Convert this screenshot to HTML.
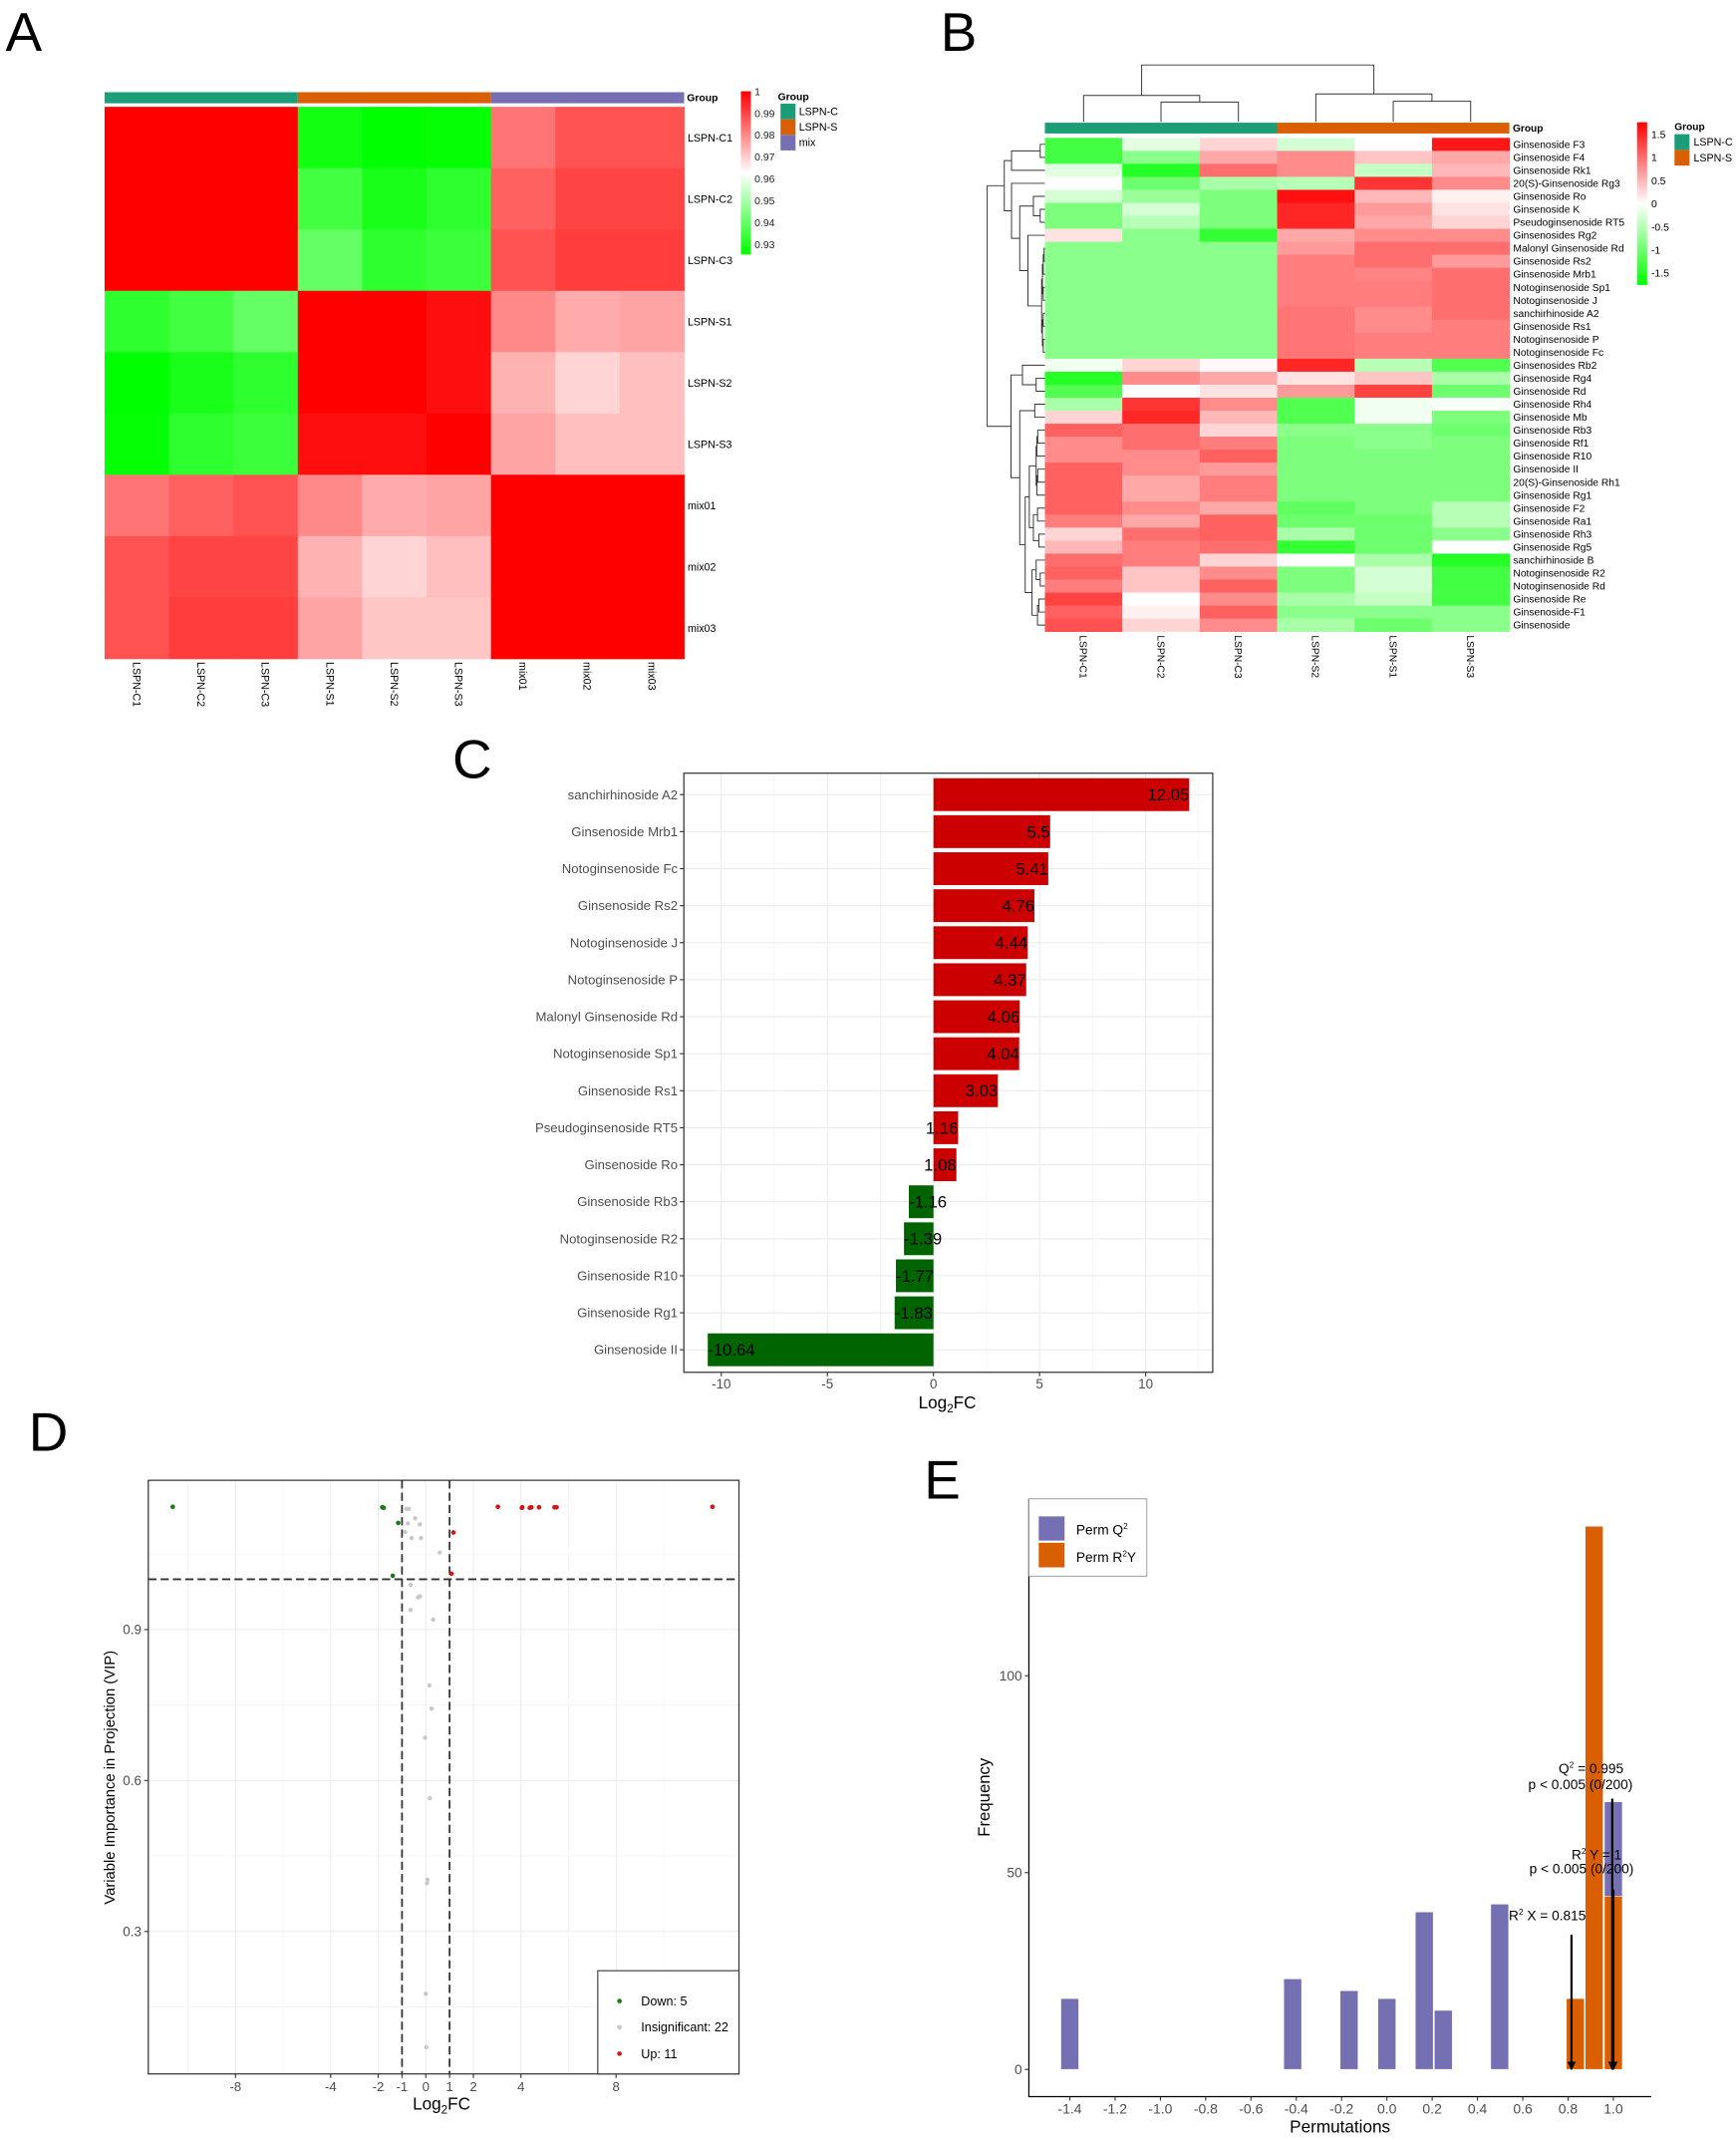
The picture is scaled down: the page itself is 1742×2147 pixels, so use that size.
<!DOCTYPE html>
<html><head><meta charset="utf-8"><title>Figure</title>
<style>
html,body{margin:0;padding:0;background:#fff;}
svg{display:block;font-family:"Liberation Sans",Arial,sans-serif;}
</style></head>
<body>
<svg id="fig" xmlns="http://www.w3.org/2000/svg" width="1742" height="2147" viewBox="0 0 1270 1565">
<rect x="0" y="0" width="1270" height="1565" fill="#fff"/>
<text x="4" y="37" font-size="40">A</text>
<text x="688" y="37" font-size="40">B</text>
<text x="331" y="569" font-size="40">C</text>
<text x="21" y="1061" font-size="40">D</text>
<text x="676" y="1096" font-size="40">E</text>
</svg>
<script>
// ---------- DATA ----------
const aSamples=['LSPN-C1','LSPN-C2','LSPN-C3','LSPN-S1','LSPN-S2','LSPN-S3','mix01','mix02','mix03'];
const aGroups=['LSPN-C','LSPN-S','mix'];
const aCorr=[
[1,1,1,.928,.925,.926,.983,.988,.988],
[1,1,1,.935,.929,.932,.986,.990,.990],
[1,1,1,.940,.932,.934,.988,.991,.991],
[.932,.935,.940,1,1,.998,.980,.975,.976],
[.925,.929,.932,1,1,.998,.974,.969,.972],
[.926,.932,.934,.998,.998,1,.976,.972,.972],
[.983,.986,.988,.980,.975,.976,1,1,1],
[.988,.990,.990,.974,.969,.972,1,1,1],
[.988,.991,.991,.976,.971,.971,1,1,1]];
const aTicks=[1,0.99,0.98,0.97,0.96,0.95,0.94,0.93];

const bCols=['LSPN-C1','LSPN-C2','LSPN-C3','LSPN-S2','LSPN-S1','LSPN-S3'];
const bRows=['Ginsenoside F3','Ginsenoside F4','Ginsenoside Rk1','20(S)-Ginsenoside Rg3','Ginsenoside Ro','Ginsenoside K','Pseudoginsenoside RT5','Ginsenosides Rg2','Malonyl Ginsenoside Rd','Ginsenoside Rs2','Ginsenoside Mrb1','Notoginsenoside Sp1','Notoginsenoside J','sanchirhinoside A2','Ginsenoside Rs1','Notoginsenoside P','Notoginsenoside Fc','Ginsenosides Rb2','Ginsenoside Rg4','Ginsenoside Rd','Ginsenoside Rh4','Ginsenoside Mb','Ginsenoside Rb3','Ginsenoside Rf1','Ginsenoside R10','Ginsenoside II','20(S)-Ginsenoside Rh1','Ginsenoside Rg1','Ginsenoside F2','Ginsenoside Ra1','Ginsenoside Rh3','Ginsenoside Rg5','sanchirhinoside B','Notoginsenoside R2','Notoginsenoside Rd','Ginsenoside Re','Ginsenoside-F1','Ginsenoside'];
const bVals=[
[-1.3,-0.2,0.3,-0.3,0,1.6],[-1.3,-0.8,0.6,0.8,0.4,0.6],[-0.2,-1.5,1.0,0.8,-0.4,0.5],[0,-1.0,-0.6,-0.5,1.4,0.8],
[-0.3,-0.7,-0.9,1.65,0.5,0.1],[-0.9,-0.3,-0.9,1.5,0.7,0.2],[-0.9,-0.5,-0.9,1.5,0.6,0.3],[0.2,-0.8,-1.4,0.6,0.8,0.8],
[-0.8,-0.8,-0.8,0.7,1.0,1.0],[-0.8,-0.8,-0.8,0.9,1.0,0.7],[-0.8,-0.8,-0.8,0.9,0.85,1.0],[-0.8,-0.8,-0.8,0.9,0.9,1.0],
[-0.8,-0.8,-0.8,0.9,0.9,1.0],[-0.8,-0.8,-0.8,0.95,0.8,1.0],[-0.8,-0.8,-0.8,0.95,0.8,0.9],[-0.8,-0.8,-0.8,0.95,0.9,0.9],
[-0.8,-0.8,-0.8,0.95,0.9,0.9],[-0.1,0.3,0.05,1.5,-0.5,-1.2],[-1.5,0.8,0.6,0.2,0.4,-0.6],[-1.2,0,0.2,0.7,1.3,-1.0],
[-0.6,1.4,0.8,-1.2,-0.1,-0.05],[0.3,1.5,0.5,-1.2,-0.1,-0.9],[1.1,1.0,0.3,-0.8,-0.8,-1.0],[0.8,1.0,0.9,-0.9,-0.8,-0.9],
[0.8,0.8,1.1,-0.9,-0.9,-0.9],[1.1,0.8,0.7,-0.9,-0.9,-0.9],[1.1,0.6,0.9,-0.9,-0.9,-0.9],[1.1,0.6,0.9,-0.9,-0.9,-0.9],
[1.1,0.8,0.6,-1.1,-0.9,-0.5],[0.9,0.6,1.1,-1.0,-1.0,-0.5],[0.3,1.0,1.1,-0.6,-1.0,-0.8],[0.5,0.9,1.0,-1.4,-1.0,0],
[1.0,0.9,0.3,0,-0.6,-1.5],[1.1,0.4,0.8,-0.9,-0.3,-1.3],[0.9,0.4,1.1,-0.9,-0.3,-1.3],[1.3,0,0.8,-0.6,-0.4,-1.3],
[1.1,0.1,1.1,-0.8,-0.8,-0.8],[1.2,0.3,0.8,-0.6,-1.0,-0.8]];
const bTicks=[1.5,1,0.5,0,-0.5,-1,-1.5];
const bTickLabels=['1.5','1','0.5','0','-0.5','-1','-1.5'];

const cNames=['sanchirhinoside A2','Ginsenoside Mrb1','Notoginsenoside Fc','Ginsenoside Rs2','Notoginsenoside J','Notoginsenoside P','Malonyl Ginsenoside Rd','Notoginsenoside Sp1','Ginsenoside Rs1','Pseudoginsenoside RT5','Ginsenoside Ro','Ginsenoside Rb3','Notoginsenoside R2','Ginsenoside R10','Ginsenoside Rg1','Ginsenoside II'];
const cValues=[12.05,5.5,5.41,4.76,4.44,4.37,4.06,4.04,3.03,1.16,1.08,-1.16,-1.39,-1.77,-1.83,-10.64];
const cTicks=[-10,-5,0,5,10];

const dDownX=[-10.64,-1.83,-1.77,-1.16,-1.39];
const dDownY=[1.144,1.143,1.142,1.112,1.007];
const dUpX=[12.05,5.5,5.41,4.76,4.44,4.37,4.06,4.04,3.03,1.16,1.08];
const dUpY=[1.144,1.143,1.143,1.143,1.143,1.142,1.143,1.142,1.144,1.093,1.011];
const dInsX=[-0.82,-0.71,-0.45,-0.75,-0.25,-0.87,-0.60,-0.20,0.59,-0.64,-0.33,-0.24,-0.64,0.31,0.15,0.24,-0.03,0.17,0.07,0.05,0.0,0.02];
const dInsY=[1.140,1.140,1.121,1.111,1.109,1.094,1.082,1.082,1.053,0.989,0.964,0.966,0.939,0.920,0.789,0.743,0.685,0.565,0.403,0.396,0.176,0.070];
const dXTicks=[-8,-4,-2,-1,0,1,2,4,8];
const dYTicks=[0.3,0.6,0.9];

const eQ2Bins=[-1.4,-0.416,-0.167,0.0,0.165,0.249,0.498,1.0];
const eQ2Freq=[18,23,20,18,40,15,42,68];
const eR2YBins=[0.832,0.915,1.0];
const eR2YFreq=[18,138,44];
const eXTicks=[-1.4,-1.2,-1.0,-0.8,-0.6,-0.4,-0.2,0.0,0.2,0.4,0.6,0.8,1.0];
const eYTicks=[0,50,100];
const eArrowX=[0.815,0.995,1.0];
const eArrowTop=[34.2,68.8,45.7];

// ---------- HELPERS ----------
const NS='http://www.w3.org/2000/svg';
const svg=document.getElementById('fig');
function mk(tag,attrs,parent){const e=document.createElementNS(NS,tag);for(const k in attrs)e.setAttribute(k,attrs[k]);(parent||svg).appendChild(e);return e;}
function txt(x,y,s,size,attrs,parent){const a=Object.assign({x:x,y:y,'font-size':size},attrs||{});const e=mk('text',a,parent);e.textContent=s;return e;}
function grp(parent){return mk('g',{},parent);}
function rgb(r,g,b){return 'rgb('+Math.round(r)+','+Math.round(g)+','+Math.round(b)+')';}
function divColor(t){t=Math.max(-1,Math.min(1,t));if(t<0){const w=255*(1+t);return rgb(w,255,w);}const w=255*(1-t);return rgb(255,w,w);}

// ---------- PANEL A ----------
(function(){
const g=grp();
const L=76.5,R=500.5,T=78,B=481.7,n=aSamples.length;
const cw=(R-L)/n,ch=(B-T)/n;
const vmin=0.9253,vmax=1.0;
const col=v=>divColor(((v-vmin)/(vmax-vmin))*2-1);
const gc=['#1b9e77','#d95f02','#7570b3'];
for(let k=0;k<3;k++){const r=mk('rect',{x:L+k*3*cw,y:67.3,width:3*cw,height:8.1,fill:gc[k]},g);

}
const gl=txt(R+2,74,'Group',7.6,{'font-weight':'bold'},g);

for(let i=0;i<n;i++)for(let j=0;j<n;j++){
const r=mk('rect',{x:L+j*cw,y:T+i*ch,width:cw+0.3,height:ch+0.3,fill:col(aCorr[i][j])},g);
}
for(let i=0;i<n;i++){
const t=txt(R+2.5,T+(i+0.5)*ch+2.8,aSamples[i],7.8,{fill:'#000'},g);

const cx=L+(j=i,(i+0.5)*cw);
const c=txt(0,0,aSamples[i],7.8,{transform:'translate('+(cx-2.8)+',484) rotate(90)'},g);
}
// colorbar
const cbT=66.6,cbB=186,cbX=542,cbW=7.3;
const defs=mk('defs',{},g);
const lg=mk('linearGradient',{id:'gradA',x1:0,y1:0,x2:0,y2:1},defs);
mk('stop',{offset:'0',  'stop-color':'#ff0000'},lg);mk('stop',{offset:'0.5','stop-color':'#ffffff'},lg);mk('stop',{offset:'1','stop-color':'#00ff00'},lg);
const cb=mk('rect',{x:cbX,y:cbT,width:cbW,height:cbB-cbT,fill:'url(#gradA)'},g);

const ys=v=>cbB-(v-vmin)/(vmax-vmin)*(cbB-cbT);
aTicks.forEach(v=>{const t=txt(cbX+10,ys(v)+2.8,String(v),7.6,{fill:'#222'},g);
});
const lt=txt(569,73,'Group',7.6,{'font-weight':'bold'},g);

for(let k=0;k<3;k++){const r=mk('rect',{x:571,y:75.7+k*11.4,width:11,height:11.4,fill:gc[k]},g);

const t=txt(584.5,75.7+k*11.4+8.3,aGroups[k],7.8,{},g);
}
})();

// ---------- PANEL B ----------
(function(){
const g=grp();
const L=764.4,R=1104.2,T=100.7,B=461.8,nc=bCols.length,nr=bRows.length;
const cw=(R-L)/nc,ch=(B-T)/nr,vmax=1.76;
for(let k=0;k<2;k++){const r=mk('rect',{x:L+k*3*cw,y:89.6,width:3*cw,height:7.9,fill:k?'#d95f02':'#1b9e77'},g);
}
const gl=txt(R+2.5,96,'Group',7.4,{'font-weight':'bold'},g);

for(let i=0;i<nr;i++)for(let j=0;j<nc;j++){
const r=mk('rect',{x:L+j*cw,y:T+i*ch,width:cw+0.3,height:ch+0.3,fill:divColor(bVals[i][j]/vmax)},g);
}
for(let i=0;i<nr;i++){const t=txt(R+2.8,T+(i+0.5)*ch+2.6,bRows[i],7.5,{},g);
}
for(let j=0;j<nc;j++){const cx=L+(j+0.5)*cw;
const t=txt(0,0,bCols[j],7.5,{transform:'translate('+(cx-2.7)+',464.5) rotate(90)'},g);
}
// column dendrogram
const cx=j=>L+(j+0.5)*cw;
const st={stroke:'#333','stroke-width':0.7,fill:'none'};
const dl=(pts)=>{const p=mk('polyline',Object.assign({points:pts.map(q=>q.join(',')).join(' ')},st),g);
};
const c23=(cx(1)+cx(2))/2, s13=(cx(4)+cx(5))/2, lc=(cx(0)+c23)/2, rc=(cx(3)+s13)/2;
dl([[cx(1),89],[cx(1),74.5],[cx(2),74.5],[cx(2),89]]);
dl([[cx(0),89],[cx(0),69.7],[c23,69.7],[c23,74.5]]);
dl([[cx(4),89],[cx(4),73.9],[cx(5),73.9],[cx(5),89]]);
dl([[cx(3),89],[cx(3),68.6],[s13,68.6],[s13,73.9]]);
dl([[lc,69.7],[lc,47.4],[rc,47.4],[rc,68.6]]);
// row dendrogram
const ry=i=>T+(i+0.5)*ch;
function chain(a,b,h){if(a===b)return a;const m=Math.floor((a+b)/2);return {c:[chain(a,m,h+0.6),chain(m+1,b,h+0.6)],h:h};}
const N=(a,b,h)=>({c:[a,b],h:h});
const top1=N(N(N(0,1,761),2,740),N(3,N(N(4,N(5,6,761),756),N(7,chain(8,16,762),752),746),740),734.7);
const top2=N(N(17,N(18,19,758),748),N(N(20,21,757),N(N(chain(22,27,758),N(N(28,29,759),N(30,31,760),756),753),N(N(32,N(33,34,761),758),N(35,36+0,759)===null?0:N(N(35,36,760),37,759),755),750),746),739.6);
const root=N(top1,top2,722.2);
function draw(node){if(typeof node==='number')return {x:L,y:ry(node)};
const a=draw(node.c[0]),b=draw(node.c[1]);
dl([[a.x,a.y],[node.h,a.y],[node.h,b.y],[b.x,b.y]]);return {x:node.h,y:(a.y+b.y)/2};}
draw(root);
// colorbar
const cbT=89.3,cbB=208.3,cbX=1197.6;
const defs=mk('defs',{},g);
const lg=mk('linearGradient',{id:'gradB',x1:0,y1:0,x2:0,y2:1},defs);
mk('stop',{offset:'0','stop-color':'#ff0000'},lg);mk('stop',{offset:'0.5','stop-color':'#ffffff'},lg);mk('stop',{offset:'1','stop-color':'#00ff00'},lg);
const cb=mk('rect',{x:cbX,y:cbT,width:7.4,height:cbB-cbT,fill:'url(#gradB)'},g);

const ys=v=>(cbT+cbB)/2-v/vmax*(cbB-cbT)/2;
bTicks.forEach((v,k)=>{const t=txt(1208,ys(v)+2.8,bTickLabels[k],7.6,{},g);
});
const lt=txt(1225,95,'Group',7.4,{'font-weight':'bold'},g);

['LSPN-C','LSPN-S'].forEach((s,k)=>{const r=mk('rect',{x:1225,y:98+k*11.5,width:11,height:11.5,fill:k?'#d95f02':'#1b9e77'},g);

const t=txt(1239,98+k*11.5+8.3,s,7.8,{},g);
});
})();

// ---------- PANEL C ----------
(function(){
const g=grp();
const L=500.3,R=887.2,T=565.4,B=1003.6,x0=682.9,k=15.52;
const X=v=>x0+v*k;
const y0=581.1,step=27.07,bh=24;
const Y=i=>y0+i*step;
[-12.5,-7.5,-2.5,2.5,7.5,12.5].forEach(v=>{if(X(v)>L&&X(v)<R){const l=mk('line',{x1:X(v),x2:X(v),y1:T,y2:B,stroke:'#f2f2f2','stroke-width':0.5},g);
}});
cTicks.forEach(v=>{const l=mk('line',{x1:X(v),x2:X(v),y1:T,y2:B,stroke:'#ebebeb','stroke-width':0.8},g);
});
cNames.forEach((s,i)=>{const l=mk('line',{x1:L,x2:R,y1:Y(i),y2:Y(i),stroke:'#ebebeb','stroke-width':0.8},g);
});
cValues.forEach((v,i)=>{const r=mk('rect',{x:Math.min(X(0),X(v)),y:Y(i)-bh/2,width:Math.abs(X(v)-X(0)),height:bh,fill:v>0?'#cc0000':'#006400'},g);

});
cValues.forEach((v,i)=>{const t=txt(X(v),Y(i)+4.3,String(v),12.2,{'text-anchor':v>0?'end':'start',fill:'#000'},g);
});
const bx=mk('rect',{x:L,y:T,width:R-L,height:B-T,fill:'none',stroke:'#333','stroke-width':0.9},g);

cNames.forEach((s,i)=>{const t=txt(L-4.5,Y(i)+3.3,s,9.6,{'text-anchor':'end',fill:'#4d4d4d'},g);

const m=mk('line',{x1:L-3,x2:L,y1:Y(i),y2:Y(i),stroke:'#333','stroke-width':0.8},g);
});
cTicks.forEach(v=>{const m=mk('line',{x1:X(v),x2:X(v),y1:B,y2:B+3,stroke:'#333','stroke-width':0.8},g);

const t=txt(X(v),1015.5,String(v),9.8,{'text-anchor':'middle',fill:'#4d4d4d'},g);
});
const tt=txt(693,1030,'Log',12.5,{'text-anchor':'middle'},g);

tt.textContent='';const a=mk('tspan',{},tt);a.textContent='Log';const b=mk('tspan',{'font-size':8.5,dy:3},tt);b.textContent='2';const c=mk('tspan',{dy:-3},tt);c.textContent='FC';
})();

// ---------- PANEL D ----------
(function(){
const g=grp();
const L=108.5,R=540.6,T=1082.6,B=1516.8,x0=311.5,kx=17.4,y09=1191.8,ky=368;
const X=v=>x0+v*kx, Y=v=>y09-(v-0.9)*ky;
[-10,-6,6,10].forEach(v=>{const l=mk('line',{x1:X(v),x2:X(v),y1:T,y2:B,stroke:'#f2f2f2','stroke-width':0.5},g);
});
[0.15,0.45,0.75,1.05].forEach(v=>{const l=mk('line',{x1:L,x2:R,y1:Y(v),y2:Y(v),stroke:'#f2f2f2','stroke-width':0.5},g);
});
dXTicks.forEach(v=>{const l=mk('line',{x1:X(v),x2:X(v),y1:T,y2:B,stroke:'#ebebeb','stroke-width':0.7},g);
});
dYTicks.forEach(v=>{const l=mk('line',{x1:L,x2:R,y1:Y(v),y2:Y(v),stroke:'#ebebeb','stroke-width':0.7},g);
});
const dash={stroke:'#333','stroke-width':1.3,'stroke-dasharray':'6,3'};
[-1,1].forEach(v=>{const l=mk('line',Object.assign({x1:X(v),x2:X(v),y1:T,y2:B},dash),g);
});
const hl=mk('line',Object.assign({x1:L,x2:R,y1:Y(1),y2:Y(1)},dash),g);

dInsX.forEach((v,i)=>{const c=mk('circle',{cx:X(v),cy:Y(dInsY[i]),r:1.6,fill:'#c8c8c8'},g);
});
dDownX.forEach((v,i)=>{const c=mk('circle',{cx:X(v),cy:Y(dDownY[i]),r:1.7,fill:'#1a7a1a'},g);
});
dUpX.forEach((v,i)=>{const c=mk('circle',{cx:X(v),cy:Y(dUpY[i]),r:1.7,fill:'#cc1a1a'},g);
});
const bx=mk('rect',{x:L,y:T,width:R-L,height:B-T,fill:'none',stroke:'#333','stroke-width':0.9},g);

dXTicks.forEach(v=>{const m=mk('line',{x1:X(v),x2:X(v),y1:B,y2:B+3,stroke:'#333','stroke-width':0.8},g);

const t=txt(X(v),1529.5,String(v),9.6,{'text-anchor':'middle',fill:'#4d4d4d'},g);
});
dYTicks.forEach(v=>{const m=mk('line',{x1:L-3,x2:L,y1:Y(v),y2:Y(v),stroke:'#333','stroke-width':0.8},g);

const t=txt(L-5,Y(v)+3.4,v.toFixed(1),9.8,{'text-anchor':'end',fill:'#4d4d4d'},g);
});
const yt=txt(0,0,'Variable Importance in Projection (VIP)',10.8,{'text-anchor':'middle',transform:'translate(84,1300) rotate(-90)'},g);

const tt=txt(323,1543,'',12.5,{'text-anchor':'middle'},g);

const a=mk('tspan',{},tt);a.textContent='Log';const b=mk('tspan',{'font-size':8.5,dy:3},tt);b.textContent='2';const c=mk('tspan',{dy:-3},tt);c.textContent='FC';
const lb=mk('rect',{x:437.3,y:1441.3,width:103.3,height:75.5,fill:'#fff',stroke:'#333','stroke-width':0.8},g);

[['Down: 5','#1a7a1a'],['Insignificant: 22','#c8c8c8'],['Up: 11','#cc1a1a']].forEach((e,k)=>{const yy=[1463.5,1482.6,1502][k];
const c=mk('circle',{cx:453.2,cy:yy,r:1.7,fill:e[1]},g);

const t=txt(469,yy+3.2,e[0],9.2,{},g);
});
})();

// ---------- PANEL E ----------
(function(){
const g=grp();
const L=752.7,B=1533.4,T=1096.2,R=1208,x0=1014.6,kx=165.7,y0=1513.5,ky=2.879,bw=0.079;
const X=v=>x0+v*kx, Y=v=>y0-v*ky;
eQ2Bins.forEach((v,i)=>{const r=mk('rect',{x:X(v-bw/2),y:Y(eQ2Freq[i]),width:bw*kx,height:eQ2Freq[i]*ky,fill:'#7570b3',stroke:'#fff','stroke-width':0.4},g);
});
eR2YBins.forEach((v,i)=>{const r=mk('rect',{x:X(v-bw/2),y:Y(eR2YFreq[i]),width:bw*kx,height:eR2YFreq[i]*ky,fill:'#d95f02',stroke:'#fff','stroke-width':0.4},g);
});
const defs=mk('defs',{},g);
const mkr=mk('marker',{id:'arr',viewBox:'0 0 10 10',refX:9,refY:5,markerWidth:4,markerHeight:4,orient:'auto'},defs);
mk('path',{d:'M0,0 L10,5 L0,10 z',fill:'#000'},mkr);
eArrowX.forEach((v,i)=>{const l=mk('line',{x1:X(v),x2:X(v),y1:Y(eArrowTop[i]),y2:Y(0),stroke:'#000','stroke-width':1.6,'marker-end':'url(#arr)'},g);
});
function sup(x,y,parts,name){const t=txt(x,y,'',10,{'text-anchor':'middle'},g);

parts.forEach(p=>{const s=mk('tspan',p[1]?{'font-size':6,dy:-4}:{dy:p[2]||0},t);s.textContent=p[0];});}
sup(1164,1297,[['Q'],['2',1],[' = 0.995',0,4]],'q2-annotation');
const p1=txt(1156.2,1308.5,'p < 0.005 (0/200)',10,{'text-anchor':'middle'},g);

sup(1168,1359.8,[['R'],['2',1],[' Y = 1',0,4]],'r2y-annotation');
const p2=txt(1157,1370,'p < 0.005 (0/200)',10,{'text-anchor':'middle'},g);

sup(1132,1404.5,[['R'],['2',1],[' X = 0.815',0,4]],'r2x-annotation');
const ax=mk('polyline',{points:L+','+T+' '+L+','+B+' '+R+','+B,fill:'none',stroke:'#000','stroke-width':0.9},g);

eXTicks.forEach(v=>{const m=mk('line',{x1:X(v),x2:X(v),y1:B,y2:B+3,stroke:'#333','stroke-width':0.8},g);

const t=txt(X(v),1545.8,v.toFixed(1),10.2,{'text-anchor':'middle',fill:'#4d4d4d'},g);
});
eYTicks.forEach(v=>{const m=mk('line',{x1:L-3,x2:L,y1:Y(v),y2:Y(v),stroke:'#333','stroke-width':0.8},g);

const t=txt(L-5,Y(v)+3.5,String(v),10,{'text-anchor':'end',fill:'#4d4d4d'},g);
});
const xt=txt(980.3,1559.5,'Permutations',12.5,{'text-anchor':'middle'},g);

const yt=txt(0,0,'Frequency',12.2,{'text-anchor':'middle',transform:'translate(724,1314.5) rotate(-90)'},g);

const lb=mk('rect',{x:752.7,y:1096.2,width:86.3,height:56.5,fill:'#fff',stroke:'#888','stroke-width':0.6},g);

const s1=mk('rect',{x:759.9,y:1109,width:18.9,height:17.7,fill:'#7570b3'},g);

const s2=mk('rect',{x:759.9,y:1128.3,width:18.9,height:18,fill:'#d95f02'},g);

const l1=txt(787.3,1122.3,'',10,{},g);

let s=mk('tspan',{},l1);s.textContent='Perm Q';s=mk('tspan',{'font-size':6,dy:-4},l1);s.textContent='2';
const l2=txt(787.3,1142.2,'',10,{},g);

s=mk('tspan',{},l2);s.textContent='Perm R';s=mk('tspan',{'font-size':6,dy:-4},l2);s.textContent='2';s=mk('tspan',{dy:4},l2);s.textContent='Y';
})();
</script>
</body></html>
